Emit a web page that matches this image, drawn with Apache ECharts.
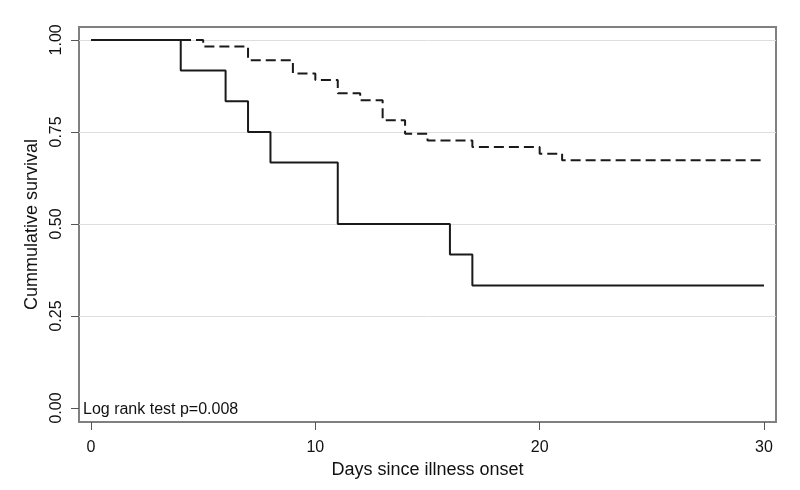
<!DOCTYPE html>
<html>
<head>
<meta charset="utf-8">
<script src="https://cdn.jsdelivr.net/npm/echarts@6/dist/echarts.min.js"></script>
<style>html,body{margin:0;padding:0;background:#fff}#c{width:800px;height:490px}</style>
</head>
<body>
<div id="c"></div>
<script>
// Kaplan-Meier step data (time in days, cumulative survival)
const solidTimes = [0, 4, 6, 7, 8, 11, 16, 17, 30];
const solidSurv  = [1.0, 0.917, 0.833, 0.75, 0.667, 0.5, 0.417, 0.333, 0.333];
const dashedTimes = [0, 5, 7, 9, 10, 11, 12, 13, 14, 15, 17, 20, 21, 30];
const dashedSurv  = [1.0, 0.982, 0.945, 0.909, 0.891, 0.855, 0.836, 0.782, 0.745, 0.727, 0.709, 0.691, 0.673, 0.673];
const xTicks = [0, 10, 20, 30];
const yTicks = [0, 0.25, 0.5, 0.75, 1];
const yGrid = [0.25, 0.5, 0.75, 1];
const xTitle = 'Days since illness onset';
const yTitle = 'Cummulative survival';
const note = 'Log rank test p=0.008';

const FONT = 'Liberation Sans, Arial, sans-serif';
const pair = (xs, ys) => xs.map((x, i) => [x, ys[i]]);

const chart = echarts.init(document.getElementById('c'), null, {renderer: 'canvas'});
chart.setOption({
  animation: false,
  backgroundColor: '#fff',
  grid: {left: 79, right: 24, top: 27, bottom: 68, show: true, borderColor: '#808080', borderWidth: 2, backgroundColor: 'transparent'},
  xAxis: {
    type: 'value', min: -0.535, max: 30.535,
    name: xTitle, nameLocation: 'middle', nameGap: 37,
    nameTextStyle: {fontFamily: FONT, fontSize: 18, color: '#111'},
    axisLine: {show: true, onZero: false, lineStyle: {color: '#808080', width: 2}},
    axisTick: {show: true, inside: false, customValues: xTicks, length: 8, lineStyle: {color: '#555', width: 1}},
    axisLabel: {customValues: xTicks, fontFamily: FONT, fontSize: 16, color: '#111', margin: 18},
    splitLine: {show: false}
  },
  yAxis: {
    type: 'value', min: -0.038, max: 1.035,
    name: yTitle, nameLocation: 'middle', nameGap: 34, nameRotate: 90,
    nameTextStyle: {fontFamily: FONT, fontSize: 18, color: '#111'},
    axisLine: {show: true, onZero: false, lineStyle: {color: '#808080', width: 2}},
    axisTick: {show: true, inside: false, customValues: yTicks, length: 8, lineStyle: {color: '#555', width: 1}},
    axisLabel: {customValues: yTicks, rotate: 90, fontFamily: FONT, fontSize: 16, color: '#111', margin: 14,
      formatter: v => v.toFixed(2)},
    splitLine: {show: false}
  },
  graphic: [{
    type: 'text', left: 83, top: 402,
    style: {text: note, font: '16px ' + FONT, fill: '#111'}
  }],
  series: [
    {type: 'line', z: 1, symbol: 'none', data: [],
     markLine: {z: 1, silent: true, symbol: 'none', label: {show: false}, animation: false,
       lineStyle: {color: '#dedede', width: 1, type: 'solid'},
       data: yGrid.map(v => ({yAxis: v}))}},
    {type: 'line', z: 3, step: 'end', symbol: 'none', data: pair(dashedTimes, dashedSurv),
     lineStyle: {color: '#1a1a1a', width: 2, type: [10, 5]}},
    {type: 'line', z: 3, step: 'end', symbol: 'none', data: pair(solidTimes, solidSurv),
     lineStyle: {color: '#1a1a1a', width: 2, type: 'solid'}}
  ]
});
</script>
</body>
</html>
